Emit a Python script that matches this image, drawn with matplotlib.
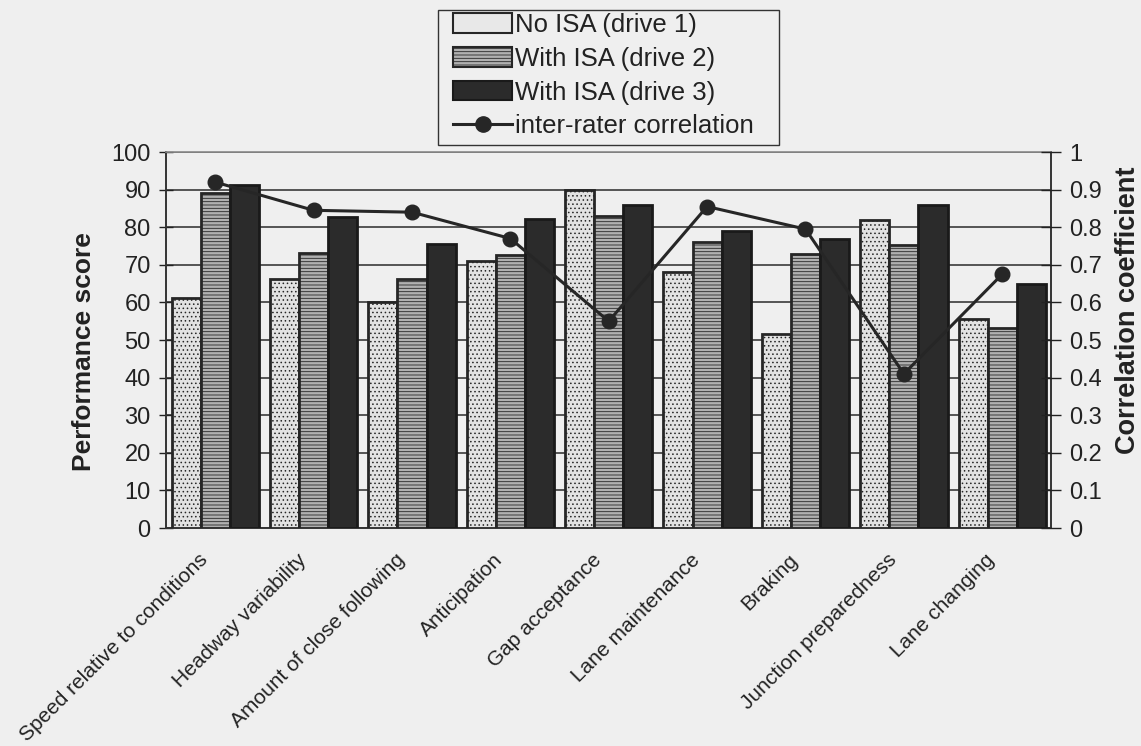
import numpy as np
import matplotlib
matplotlib.use("Agg")
import matplotlib.pyplot as plt
import matplotlib.transforms as mtransforms
from matplotlib.lines import Line2D
from matplotlib.patches import Patch, Rectangle

plt.rcParams['font.family'] = ['Liberation Sans', 'DejaVu Sans']
plt.rcParams['hatch.linewidth'] = 0.6

# data
categories = ["Speed relative to conditions", "Headway variability",
              "Amount of close following", "Anticipation", "Gap acceptance",
              "Lane maintenance", "Braking", "Junction preparedness",
              "Lane changing"]
drive1 = [61.2, 66.1, 60.0, 71.0, 90.0, 68.0, 51.5, 81.8, 55.5]
drive2 = [89.2, 73.2, 66.1, 72.6, 83.0, 76.2, 72.8, 75.2, 53.3]
drive3 = [91.3, 82.6, 75.5, 82.2, 86.0, 79.0, 76.9, 85.8, 64.8]
correlation = [0.92, 0.845, 0.84, 0.77, 0.55, 0.855, 0.795, 0.41, 0.675]
series_labels = ["No ISA (drive 1)", "With ISA (drive 2)",
                 "With ISA (drive 3)", "inter-rater correlation"]

bg = "#efefef"
ink = "#222222"
fig = plt.figure(figsize=(11.41, 7.46), dpi=100, facecolor=bg)
ax = fig.add_axes([0.1455, 0.2922, 0.776, 0.5040])
ax.set_facecolor(bg)

x = np.arange(len(categories))
w = 0.296
styles = [
    dict(facecolor="#e2e2e2", hatch="....", edgecolor="#262626"),
    dict(facecolor="#b0b0b0", hatch="-----", edgecolor="#262626"),
    dict(facecolor="#2b2b2b", hatch=None, edgecolor="#1a1a1a"),
]
for i, (vals, st) in enumerate(zip([drive1, drive2, drive3], styles)):
    ax.bar(x + (i - 1) * w, vals, width=w, facecolor=st["facecolor"],
           edgecolor=st["edgecolor"], linewidth=2.0, hatch=st["hatch"],
           zorder=3)

ax.set_xlim(-0.5, len(categories) - 0.5)
ax.set_ylim(0, 100)
ax.set_yticks(np.arange(0, 101, 10))
ax.yaxis.grid(True, color="#3a3a3a", linewidth=1.2, zorder=0)
ax.set_axisbelow(True)
ax.tick_params(axis='y', direction='inout', length=10, width=1.0,
               labelsize=17, colors=ink, pad=6)
ax.tick_params(axis='x', length=0, labelsize=15, colors=ink, pad=16)
ax.set_xticks(x)
ax.set_xticklabels(categories, rotation=45, ha='right', va='top',
                   rotation_mode='anchor')
shift = mtransforms.ScaledTranslation(-17 / 100, 0, fig.dpi_scale_trans)
for lab in ax.get_xticklabels():
    lab.set_transform(lab.get_transform() + shift)
for s in ['left', 'right', 'bottom']:
    ax.spines[s].set_color("#333333")
    ax.spines[s].set_linewidth(1.4)
ax.spines['top'].set_color("#8a8a8a")
ax.spines['top'].set_linewidth(1.2)
ax.set_ylabel("Performance score", fontsize=19, fontweight='bold', color=ink)
ax.yaxis.set_label_coords(-0.079, 0.47)

ax2 = ax.twinx()
ax2.plot(x, correlation, color="#262626", linewidth=2.2, marker='o',
         markersize=10.5, markerfacecolor="#262626",
         markeredgecolor="#262626", zorder=5)
ax2.set_ylim(0, 1)
ax2.set_yticks(np.arange(0, 1.01, 0.1))
ax2.set_yticklabels(["0", "0.1", "0.2", "0.3", "0.4", "0.5", "0.6", "0.7",
                     "0.8", "0.9", "1"])
ax2.tick_params(axis='y', direction='inout', length=14, width=1.0,
                labelsize=17, colors=ink, pad=6)
for s in ax2.spines.values():
    s.set_visible(False)
ax2.set_ylabel("Correlation coefficient", fontsize=19.5, fontweight='bold',
               color=ink)
ax2.yaxis.set_label_coords(1.072, 0.58)

handles = [Patch(facecolor="#e8e8e8", edgecolor="#262626", linewidth=1.5),
           Patch(facecolor=styles[1]["facecolor"], hatch="-----",
                 edgecolor="#262626", linewidth=1.5),
           Patch(facecolor=styles[2]["facecolor"], edgecolor="#1a1a1a",
                 linewidth=1.5),
           Line2D([], [], color="#262626", linewidth=2.2, marker='o',
                  markersize=11)]
leg = fig.legend(handles, series_labels, loc='upper left',
                 bbox_to_anchor=(453 / 1141, 1 - 13 / 746), fontsize=18.5,
                 frameon=False, handlelength=2.3, handleheight=0.8,
                 handletextpad=0.12, borderpad=0.0, labelspacing=0.38,
                 borderaxespad=0.0)
for t in leg.get_texts():
    t.set_color(ink)
# legend frame is wider than the entries, as in the original
fig.patches.append(Rectangle((438 / 1141, 1 - 145 / 746), 341 / 1141,
                             135 / 746, transform=fig.transFigure,
                             fill=False, edgecolor="#333333", linewidth=1.0))

fig.savefig("out.png", dpi=100, facecolor=bg)
